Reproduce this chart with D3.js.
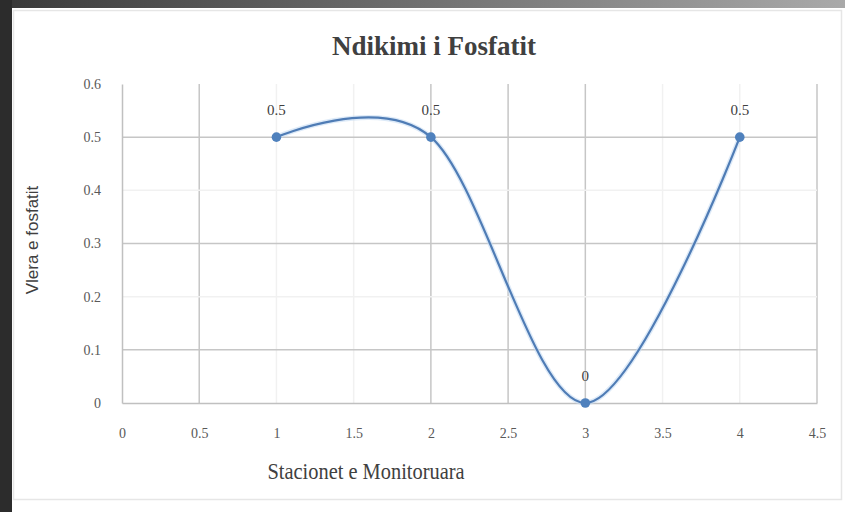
<!DOCTYPE html>
<html>
<head>
<meta charset="utf-8">
<script src="https://cdn.jsdelivr.net/npm/d3@7"></script>
<style>
  html, body { margin: 0; padding: 0; background: #ffffff; }
  svg { display: block; }
</style>
</head>
<body>
<svg id="chart" width="845" height="512"></svg>
<script>
// Phosphate readings at the monitored stations
const stations = [1, 2, 3, 4];
const phosphate = [0.5, 0.5, 0, 0.5];
const valueLabels = ["0.5", "0.5", "0", "0.5"];

// Axis ticks
const xTicks = [0, 0.5, 1, 1.5, 2, 2.5, 3, 3.5, 4, 4.5];
const xTickLabels = ["0", "0.5", "1", "1.5", "2", "2.5", "3", "3.5", "4", "4.5"];
const yTicks = [0, 0.1, 0.2, 0.3, 0.4, 0.5, 0.6];
const yTickLabels = ["0", "0.1", "0.2", "0.3", "0.4", "0.5", "0.6"];

// Gridlines that print strongly; the rest are kept very light
const xGridStrong = [0.5, 2, 2.5, 3, 4.5];
const yGridStrong = [0.1, 0.3, 0.5];

const chartTitle = "Ndikimi i Fosfatit";
const xTitle = "Stacionet e Monitoruara";
const yTitle = "Vlera e fosfatit";

const svg = d3.select("#chart");
const W = 845, H = 512;

// Window frame around the chart
const defs = svg.append("defs");
const grad = defs.append("linearGradient").attr("id", "topband")
  .attr("x1", "0%").attr("x2", "100%").attr("y1", "0%").attr("y2", "0%");
grad.append("stop").attr("offset", "0%").attr("stop-color", "#383838");
grad.append("stop").attr("offset", "100%").attr("stop-color", "#a9a9a9");

svg.append("rect").attr("x", 0).attr("y", 0).attr("width", W).attr("height", H).attr("fill", "#ffffff");
svg.append("rect").attr("x", 0).attr("y", 0).attr("width", W).attr("height", 8).attr("fill", "url(#topband)");
svg.append("rect").attr("x", 0).attr("y", 0).attr("width", 12).attr("height", H).attr("fill", "#2c2c2c");
svg.append("rect").attr("x", 13.5).attr("y", 10.5).attr("width", 828).attr("height", 489)
  .attr("fill", "none").attr("stroke", "#e6e6e6").attr("stroke-width", 1.5);

// Scales
const x = d3.scaleLinear().domain([0, 4.5]).range([122, 817]);
const y = d3.scaleLinear().domain([0, 0.6]).range([403, 84]);

const plot = svg.append("g");

// Gridlines
plot.append("g").selectAll("line").data(xTicks.filter(v => v > 0)).join("line")
  .attr("x1", d => x(d)).attr("x2", d => x(d))
  .attr("y1", y(0.6)).attr("y2", y(0))
  .attr("stroke", d => xGridStrong.includes(d) ? "#c6c6c6" : "#f1f1f1")
  .attr("stroke-width", 1.5);
plot.append("g").selectAll("line").data(yTicks.filter(v => v > 0 && v < 0.6)).join("line")
  .attr("x1", x(0)).attr("x2", x(4.5))
  .attr("y1", d => y(d)).attr("y2", d => y(d))
  .attr("stroke", d => yGridStrong.includes(d) ? "#c6c6c6" : "#f1f1f1")
  .attr("stroke-width", 1.5);

// Axes built with d3 axis generators, domain lines styled as plot borders
const xAxis = d3.axisBottom(x).tickValues(xTicks)
  .tickFormat((d, i) => xTickLabels[i]).tickSize(0).tickPadding(25);
const gx = svg.append("g").attr("transform", `translate(0,${y(0)})`).call(xAxis);
gx.select(".domain").attr("stroke", "#c0c0c0").attr("stroke-width", 1.5);
gx.selectAll("text")
  .attr("font-family", "'Liberation Serif', serif").attr("font-size", 14)
  .attr("fill", "#595959");

const yAxis = d3.axisLeft(y).tickValues(yTicks)
  .tickFormat((d, i) => yTickLabels[i]).tickSize(0).tickPadding(21);
const gy = svg.append("g").attr("transform", `translate(${x(0)},0)`).call(yAxis);
gy.select(".domain").attr("stroke", "#c0c0c0").attr("stroke-width", 1.5);
gy.selectAll("text")
  .attr("font-family", "'Liberation Serif', serif").attr("font-size", 14)
  .attr("fill", "#595959");

// Smoothed series line
const pts = stations.map((s, i) => [s, phosphate[i]]);
const line = d3.line().x(d => x(d[0])).y(d => y(d[1])).curve(d3.curveCatmullRom.alpha(0));

svg.append("path").attr("d", line(pts)).attr("fill", "none")
  .attr("stroke", "#c7dcf3").attr("stroke-width", 5).attr("stroke-opacity", 0.6);
svg.append("path").attr("d", line(pts)).attr("fill", "none")
  .attr("stroke", "#4f7cb5").attr("stroke-width", 2.2);

// Markers
svg.append("g").selectAll("circle").data(pts).join("circle")
  .attr("cx", d => x(d[0])).attr("cy", d => y(d[1])).attr("r", 4.8)
  .attr("fill", "#4f81bd");

// Data labels
svg.append("g").selectAll("text").data(pts).join("text")
  .attr("x", d => x(d[0])).attr("y", d => y(d[1]) - 22)
  .attr("text-anchor", "middle")
  .attr("font-family", "'Liberation Serif', serif").attr("font-size", 15)
  .attr("fill", "#404040")
  .text((d, i) => valueLabels[i]);

// Titles
svg.append("text")
  .attr("transform", "translate(434,55)")
  .attr("text-anchor", "middle")
  .attr("font-family", "'Liberation Serif', serif").attr("font-size", 27)
  .attr("font-weight", "bold").attr("fill", "#404040")
  .text(chartTitle);

svg.append("text")
  .attr("transform", "translate(366,479) scale(0.85,1)")
  .attr("text-anchor", "middle")
  .attr("font-family", "'Liberation Serif', serif").attr("font-size", 24)
  .attr("fill", "#404040")
  .text(xTitle);

svg.append("text")
  .attr("transform", "translate(38,240) rotate(-90)")
  .attr("text-anchor", "middle")
  .attr("font-family", "'Liberation Sans', sans-serif").attr("font-size", 17)
  .attr("fill", "#404040")
  .text(yTitle);
</script>
</body>
</html>
